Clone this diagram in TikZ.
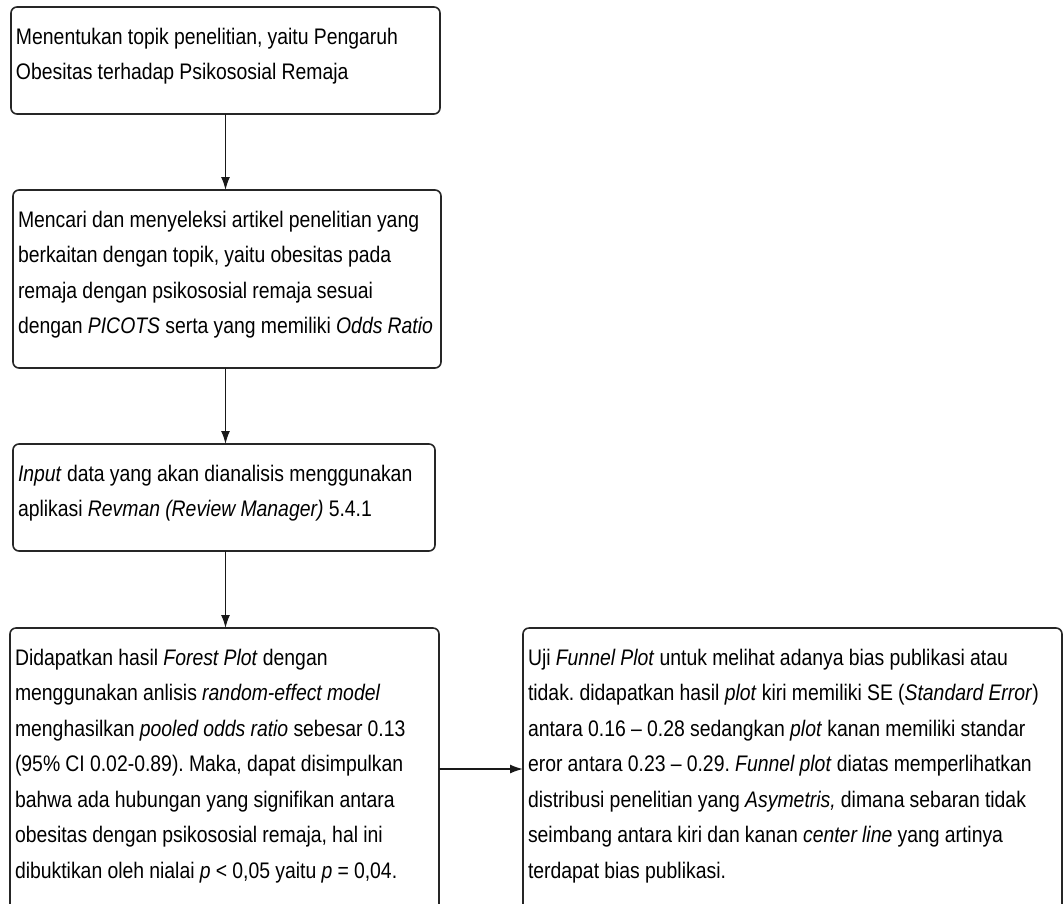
\documentclass[tikz,border=0pt]{standalone}
\usepackage{fontspec}
\usetikzlibrary{arrows.meta}
\newfontfamily\diagfont{Liberation Sans}[FakeStretch=0.862, Ligatures=TeX]

\begin{document}
\begin{tikzpicture}[
        x=1pt, y=-1pt,
        stepbox/.style={
            draw=black!85,
            line width=1.6pt,
            rounded corners=6pt,
            anchor=north west,
            outer sep=0pt,
            inner xsep=5pt,
            inner ysep=0pt,
            align=left,
            text height=37pt,
            font=\diagfont\fontsize{22.5}{35.5}\selectfont,
            execute at begin node={\frenchspacing\spaceskip=5.2pt plus 1pt minus 1pt},
        },
        flow/.style={
            draw=black!90,
            line width=1.5pt,
            -{Latex[length=13pt,width=9pt]},
        },
    ]

    \useasboundingbox (0, 0) rectangle (1064, 903);
    \clip (0, 0) rectangle (1064, 903);

    \node[stepbox, text width=419pt, text depth=70pt]  (topik)  at (11, 7)
        {Menentukan topik penelitian, yaitu Pengaruh\\
         Obesitas terhadap Psikososial Remaja};
    \node[stepbox, text width=418pt, text depth=141pt] (cari)   at (13, 190)
        {Mencari dan menyeleksi artikel penelitian yang\\
         berkaitan dengan topik, yaitu obesitas pada\\
         remaja dengan psikososial remaja sesuai\\
         dengan \textit{PICOTS} serta yang memiliki \textit{Odds Ratio}};
    \node[stepbox, text width=412pt, text depth=70pt]  (input)  at (13, 444)
        {\textit{Input} data yang akan dianalisis menggunakan\\
         aplikasi \textit{Revman (Review Manager)} 5.4.1};
    \node[stepbox, text width=419pt, text depth=245pt] (hasil)  at (10, 628)
        {Didapatkan hasil \textit{Forest Plot} dengan\\
         menggunakan anlisis \textit{random-effect model}\\
         menghasilkan \textit{pooled odds ratio} sebesar 0.13\\
         (95\% CI 0.02-0.89). Maka, dapat disimpulkan\\
         bahwa ada hubungan yang signifikan antara\\
         obesitas dengan psikososial remaja, hal ini\\
         dibuktikan oleh nialai \textit{p} < 0,05 yaitu \textit{p} = 0,04.};
    \node[stepbox, text width=529pt, text depth=245pt] (funnel) at (523, 628)
        {Uji \textit{Funnel Plot} untuk melihat adanya bias publikasi atau\\
         tidak. didapatkan hasil \textit{plot} kiri memiliki SE (\textit{Standard Error})\\
         antara 0.16 -- 0.28 sedangkan \textit{plot} kanan memiliki standar\\
         eror antara 0.23 -- 0.29. \textit{Funnel plot} diatas memperlihatkan\\
         distribusi penelitian yang \textit{Asymetris,} dimana sebaran tidak\\
         seimbang antara kiri dan kanan \textit{center line} yang artinya\\
         terdapat bias publikasi.};

    \draw[flow] (topik.south) -- (topik.south |- cari.north);
    \draw[flow] (topik.south |- cari.south) -- (topik.south |- input.north);
    \draw[flow] (topik.south |- input.south) -- (topik.south |- hasil.north);
    \draw[flow] (hasil.east) -- (funnel.west);

\end{tikzpicture}
\end{document}
